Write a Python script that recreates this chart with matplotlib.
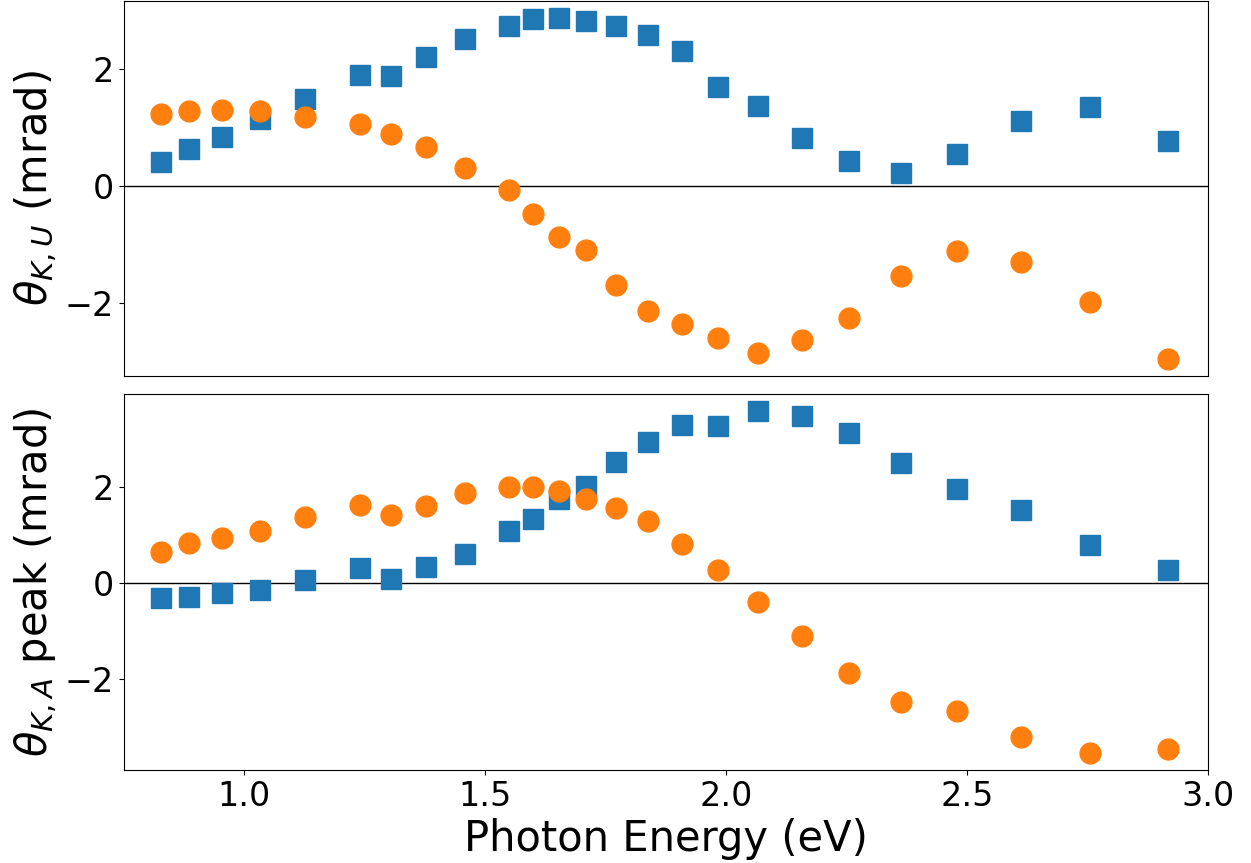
import matplotlib
matplotlib.use('Agg')
import matplotlib.pyplot as plt
import numpy as np
from matplotlib.ticker import MultipleLocator

# Photon energies (eV) of the measurement points
energy = np.array([0.827, 0.886, 0.954, 1.033, 1.127, 1.240, 1.305, 1.378,
                   1.459, 1.550, 1.600, 1.653, 1.710, 1.771, 1.837, 1.908,
                   1.984, 2.067, 2.157, 2.255, 2.362, 2.480, 2.611, 2.756,
                   2.918])

# Kerr rotation, uniform component (mrad)
theta_u_sq = np.array([0.41, 0.64, 0.85, 1.15, 1.50, 1.90, 1.89, 2.21,
                       2.52, 2.75, 2.87, 2.88, 2.82, 2.74, 2.58, 2.31,
                       1.70, 1.38, 0.82, 0.44, 0.22, 0.56, 1.11, 1.36,
                       0.78])
theta_u_circ = np.array([1.23, 1.28, 1.30, 1.29, 1.19, 1.07, 0.89, 0.68,
                         0.31, -0.07, -0.48, -0.87, -1.09, -1.69, -2.13, -2.35,
                         -2.59, -2.86, -2.63, -2.26, -1.53, -1.11, -1.30, -1.98,
                         -2.96])

# Kerr rotation, antisymmetric peak (mrad)
theta_a_sq = np.array([-0.31, -0.29, -0.22, -0.15, 0.05, 0.30, 0.08, 0.34,
                       0.61, 1.08, 1.33, 1.74, 2.03, 2.52, 2.94, 3.30,
                       3.28, 3.58, 3.49, 3.12, 2.51, 1.96, 1.53, 0.79,
                       0.26])
theta_a_circ = np.array([0.64, 0.83, 0.93, 1.08, 1.37, 1.63, 1.41, 1.61,
                         1.87, 2.00, 2.00, 1.91, 1.75, 1.57, 1.29, 0.80,
                         0.26, -0.40, -1.11, -1.88, -2.48, -2.68, -3.22, -3.55,
                         -3.47])

fig, (ax1, ax2) = plt.subplots(2, 1, sharex=True, figsize=(12.51, 8.63), dpi=100)
fig.subplots_adjust(left=0.099, right=0.9656, top=0.999, bottom=0.108, hspace=0.048)

for ax, sq, circ, label in [
        (ax1, theta_u_sq, theta_u_circ, r'$\theta_{K,U}$ (mrad)'),
        (ax2, theta_a_sq, theta_a_circ, r'$\theta_{K,A}$ peak (mrad)')]:
    ax.axhline(0, color='k', linewidth=1, zorder=1)
    ax.plot(energy, sq, 's', color='tab:blue', markersize=15, zorder=2)
    ax.plot(energy, circ, 'o', color='tab:orange', markersize=15, zorder=3)
    ax.set_ylabel(label, fontsize=30)
    ax.tick_params(labelsize=24)

ax1.tick_params(axis='x', bottom=False)
ax2.set_xlim(0.75, 3.0)
ax2.xaxis.set_major_locator(MultipleLocator(0.5))
ax2.set_xlabel('Photon Energy (eV)', fontsize=30)

plt.savefig('out.png', dpi=100)
plt.close()
